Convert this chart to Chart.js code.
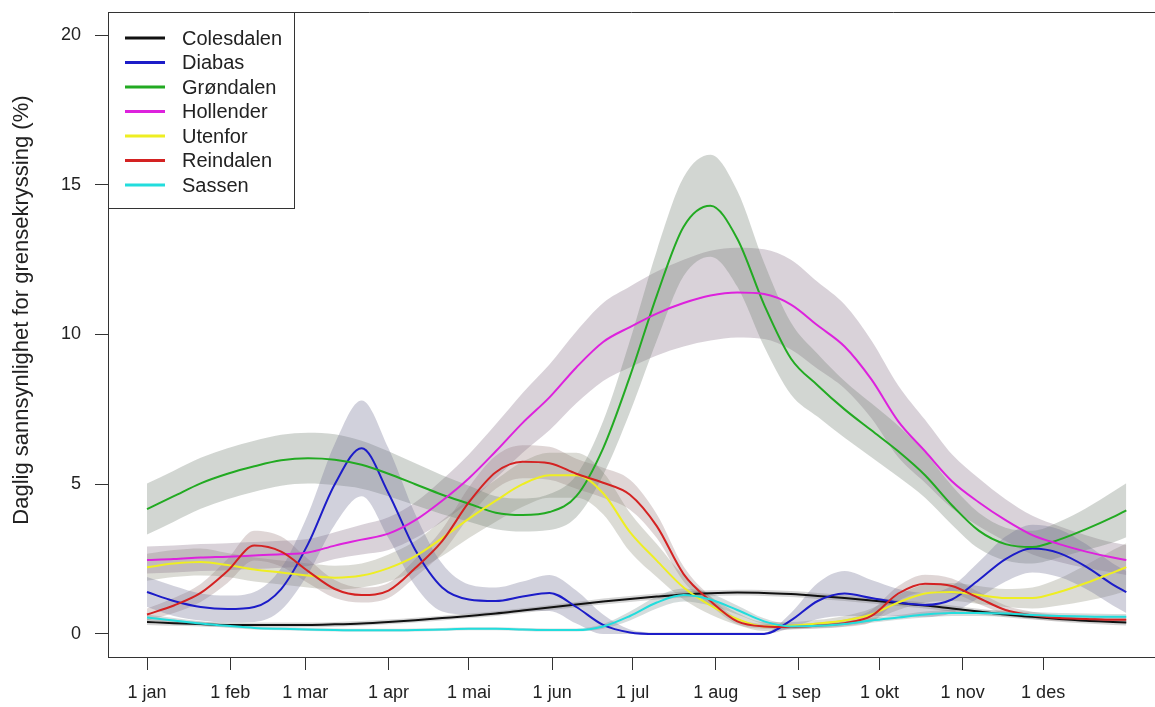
<!DOCTYPE html>
<html>
<head>
<meta charset="utf-8">
<script src="https://cdn.jsdelivr.net/npm/chart.js@4/dist/chart.umd.min.js"></script>
<style>
  body { margin: 0; background: #fff; }
</style>
</head>
<body>
<canvas id="grenseChart" width="1155" height="707"></canvas>
<script>
// dag i året (0 = 1 jan)
const days = [0, 10, 20, 30, 40, 50, 60, 70, 80, 90,
  100, 110, 120, 130, 140, 150, 160, 170, 180, 190,
  200, 210, 220, 230, 240, 250, 260, 270, 280, 290,
  300, 310, 320, 330, 340, 350, 360, 365];

const monthDays = [0, 31, 59, 90, 120, 151, 181, 212, 243, 273, 304, 334];
const monthLabels = ['1 jan', '1 feb', '1 mar', '1 apr', '1 mai', '1 jun',
  '1 jul', '1 aug', '1 sep', '1 okt', '1 nov', '1 des'];
const yTicks = [0, 5, 10, 15, 20];

const names = ['Colesdalen', 'Diabas', 'Grøndalen', 'Hollender', 'Utenfor', 'Reindalen', 'Sassen'];

const colesdalen = [0.4, 0.36, 0.33, 0.3, 0.3, 0.3, 0.3, 0.32, 0.35, 0.4,
  0.46, 0.53, 0.6, 0.68, 0.78, 0.88, 0.98, 1.08, 1.17, 1.25,
  1.32, 1.36, 1.38, 1.37, 1.33, 1.27, 1.2, 1.12, 1.03, 0.95,
  0.85, 0.75, 0.65, 0.57, 0.5, 0.44, 0.4, 0.38];
const diabas = [1.4, 1.1, 0.9, 0.83, 0.9, 1.5, 3.0, 5.0, 6.2, 4.7,
  2.8, 1.55, 1.15, 1.1, 1.25, 1.37, 0.9, 0.3, 0.05, 0,
  0, 0, 0, 0, 0.45, 1.1, 1.35, 1.2, 1.05, 0.97,
  1.15, 1.8, 2.5, 2.85, 2.7, 2.25, 1.65, 1.4];
const grondalen = [4.17, 4.6, 5.03, 5.35, 5.6, 5.8, 5.87, 5.82, 5.65, 5.35,
  5.0, 4.65, 4.35, 4.05, 3.97, 4.07, 4.6, 6.2, 8.6, 11.3,
  13.6, 14.3, 13.2, 11.0, 9.2, 8.3, 7.5, 6.8, 6.1, 5.3,
  4.3, 3.45, 3.0, 2.9, 3.15, 3.5, 3.9, 4.13];
const hollender = [2.47, 2.5, 2.55, 2.58, 2.62, 2.66, 2.72, 2.95, 3.15, 3.35,
  3.8, 4.45, 5.2, 6.1, 7.05, 7.9, 8.9, 9.75, 10.25, 10.7,
  11.05, 11.3, 11.4, 11.35, 11.0, 10.3, 9.6, 8.5, 7.1, 6.1,
  5.1, 4.4, 3.8, 3.3, 3.0, 2.75, 2.55, 2.47];
const utenfor = [2.23, 2.35, 2.4, 2.3, 2.15, 2.05, 1.95, 1.88, 1.95, 2.2,
  2.6, 3.2, 3.85, 4.45, 5.0, 5.3, 5.3, 4.7, 3.4, 2.45,
  1.55, 0.95, 0.5, 0.25, 0.28, 0.35, 0.45, 0.65, 1.05, 1.35,
  1.4, 1.3, 1.2, 1.2, 1.4, 1.7, 2.05, 2.23];
const reindalen = [0.65, 0.95, 1.37, 2.1, 2.95, 2.75, 2.1, 1.5, 1.3, 1.45,
  2.2, 3.1, 4.4, 5.4, 5.75, 5.7, 5.35, 5.05, 4.65, 3.6,
  2.0, 1.1, 0.42, 0.25, 0.23, 0.28, 0.36, 0.6, 1.35, 1.68,
  1.6, 1.2, 0.8, 0.62, 0.53, 0.5, 0.47, 0.47];
const sassen = [0.55, 0.45, 0.35, 0.27, 0.2, 0.17, 0.15, 0.13, 0.12, 0.12,
  0.13, 0.15, 0.17, 0.17, 0.15, 0.13, 0.13, 0.25, 0.6, 1.05,
  1.3, 1.15, 0.8, 0.42, 0.25, 0.27, 0.33, 0.45, 0.55, 0.65,
  0.7, 0.7, 0.68, 0.63, 0.6, 0.58, 0.57, 0.57];

// halv bredde på konfidensbåndet
const colesdalenSe = [0.1, 0.09, 0.08, 0.08, 0.08, 0.08, 0.08, 0.08, 0.08, 0.08,
  0.08, 0.08, 0.08, 0.08, 0.08, 0.09, 0.09, 0.1, 0.1, 0.1,
  0.1, 0.1, 0.1, 0.1, 0.1, 0.1, 0.1, 0.1, 0.1, 0.1,
  0.1, 0.09, 0.09, 0.09, 0.09, 0.09, 0.1, 0.1];
const diabasSe = [0.5, 0.5, 0.45, 0.45, 0.5, 0.7, 1.0, 1.35, 1.6, 1.5,
  1.2, 0.8, 0.5, 0.45, 0.5, 0.6, 0.55, 0.35, 0.1, 0.05,
  0.05, 0.05, 0.05, 0.05, 0.25, 0.6, 0.75, 0.6, 0.45, 0.4,
  0.45, 0.6, 0.75, 0.8, 0.8, 0.75, 0.7, 0.7];
const grondalenSe = [0.85, 0.85, 0.85, 0.85, 0.85, 0.85, 0.85, 0.85, 0.8, 0.75,
  0.7, 0.65, 0.6, 0.55, 0.55, 0.6, 0.7, 0.9, 1.2, 1.5,
  1.65, 1.7, 1.6, 1.4, 1.2, 1.05, 0.95, 0.9, 0.85, 0.75,
  0.65, 0.6, 0.55, 0.55, 0.6, 0.7, 0.85, 0.9];
const hollenderSe = [0.45, 0.45, 0.45, 0.45, 0.45, 0.45, 0.45, 0.45, 0.5, 0.55,
  0.6, 0.7, 0.8, 0.9, 1.0, 1.1, 1.2, 1.3, 1.35, 1.4,
  1.45, 1.5, 1.5, 1.5, 1.5, 1.45, 1.4, 1.3, 1.2, 1.05,
  0.9, 0.8, 0.7, 0.65, 0.6, 0.55, 0.5, 0.5];
const utenforSe = [0.45, 0.45, 0.45, 0.4, 0.4, 0.4, 0.4, 0.4, 0.4, 0.45,
  0.5, 0.6, 0.65, 0.7, 0.75, 0.75, 0.75, 0.7, 0.65, 0.55,
  0.4, 0.3, 0.2, 0.15, 0.12, 0.12, 0.15, 0.2, 0.25, 0.3,
  0.3, 0.3, 0.3, 0.35, 0.45, 0.6, 0.75, 0.8];
const reindalenSe = [0.2, 0.25, 0.3, 0.4, 0.5, 0.5, 0.4, 0.3, 0.25, 0.25,
  0.3, 0.4, 0.5, 0.55, 0.55, 0.55, 0.5, 0.5, 0.5, 0.4,
  0.25, 0.15, 0.1, 0.08, 0.08, 0.1, 0.12, 0.2, 0.25, 0.3,
  0.25, 0.2, 0.15, 0.12, 0.1, 0.1, 0.1, 0.1];
const sassenSe = [0.1, 0.08, 0.07, 0.06, 0.05, 0.05, 0.05, 0.05, 0.05, 0.05,
  0.05, 0.05, 0.05, 0.05, 0.05, 0.05, 0.05, 0.08, 0.15, 0.2,
  0.22, 0.2, 0.15, 0.1, 0.08, 0.08, 0.08, 0.08, 0.08, 0.1,
  0.1, 0.1, 0.1, 0.1, 0.1, 0.1, 0.1, 0.1];

const series = [colesdalen, diabas, grondalen, hollender, utenfor, reindalen, sassen];
const seriesSe = [colesdalenSe, diabasSe, grondalenSe, hollenderSe, utenforSe, reindalenSe, sassenSe];
const lineColours = ['#111111', '#1c1cc8', '#22aa22', '#dd22dd', '#eeee22', '#d42222', '#22dddd'];
const bandColours = ['rgba(120,120,120,0.3)', 'rgba(115,115,150,0.33)', 'rgba(118,132,118,0.33)',
  'rgba(140,118,140,0.33)', 'rgba(135,135,115,0.3)', 'rgba(150,118,118,0.3)', 'rgba(115,140,140,0.3)'];

const FONT = '"Liberation Sans", Arial, sans-serif';

const datasets = [];
series.forEach((vals, i) => {
  const se = seriesSe[i];
  datasets.push({
    data: days.map((d, k) => ({ x: d, y: vals[k] + se[k] })),
    fill: '+1',
    backgroundColor: bandColours[i],
    borderWidth: 0,
    pointRadius: 0,
    cubicInterpolationMode: 'monotone',
    order: 100
  });
  datasets.push({
    data: days.map((d, k) => ({ x: d, y: Math.max(0, vals[k] - se[k]) })),
    fill: false,
    borderWidth: 0,
    pointRadius: 0,
    cubicInterpolationMode: 'monotone',
    order: 100
  });
});
series.forEach((vals, i) => {
  datasets.push({
    label: names[i],
    data: days.map((d, k) => ({ x: d, y: vals[k] })),
    fill: false,
    borderColor: lineColours[i],
    borderWidth: 2,
    pointRadius: 0,
    cubicInterpolationMode: 'monotone',
    order: 10 - i
  });
});

const legendBox = {
  id: 'legendBox',
  afterDraw(chart) {
    const ctx = chart.ctx;
    const { left, top, right } = chart.chartArea;
    ctx.save();
    // øvre ramme
    ctx.strokeStyle = '#333';
    ctx.lineWidth = 1;
    ctx.beginPath();
    ctx.moveTo(left, top + 0.5);
    ctx.lineTo(right, top + 0.5);
    ctx.stroke();

    ctx.fillStyle = '#fff';
    ctx.fillRect(left, top, 187, 197);
    ctx.strokeRect(left + 0.5, top + 0.5, 186, 196);
    ctx.font = '20px ' + FONT;
    ctx.textBaseline = 'middle';
    names.forEach((name, i) => {
      const y = top + 26 + i * 24.5;
      ctx.strokeStyle = lineColours[i];
      ctx.lineWidth = 3;
      ctx.beginPath();
      ctx.moveTo(left + 17, y);
      ctx.lineTo(left + 57, y);
      ctx.stroke();
      ctx.fillStyle = '#222';
      ctx.fillText(name, left + 74, y + 1);
    });
    ctx.restore();
  }
};

const ctx = document.getElementById('grenseChart').getContext('2d');
new Chart(ctx, {
  type: 'line',
  data: { datasets: datasets },
  plugins: [legendBox],
  options: {
    responsive: false,
    animation: false,
    devicePixelRatio: 1,
    layout: { padding: { top: 12, right: 0, left: 0, bottom: 0 } },
    scales: {
      x: {
        type: 'linear',
        min: -14.54,
        max: 375.7,
        afterFit: (s) => { s.height = 50; s.paddingLeft = 0; s.paddingRight = 0; },
        afterBuildTicks: (axis) => { axis.ticks = monthDays.map(v => ({ value: v })); },
        ticks: {
          autoSkip: false,
          maxRotation: 0,
          padding: 12,
          color: '#222',
          font: { family: FONT, size: 18 },
          callback: (v) => monthLabels[monthDays.indexOf(v)]
        },
        grid: { drawOnChartArea: false, drawTicks: true, tickLength: 13, color: '#333' },
        border: { display: true, color: '#333', width: 1 }
      },
      y: {
        min: -0.77,
        max: 20.77,
        afterFit: (s) => { s.width = 108; s.paddingTop = 0; s.paddingBottom = 0; },
        afterBuildTicks: (axis) => { axis.ticks = yTicks.map(v => ({ value: v })); },
        ticks: {
          padding: 14,
          color: '#222',
          font: { family: FONT, size: 18 }
        },
        grid: { drawOnChartArea: false, drawTicks: true, tickLength: 13, color: '#333' },
        border: { display: true, color: '#333', width: 1 },
        title: {
          display: true,
          text: '\u00a0\u00a0\u00a0\u00a0\u00a0\u00a0\u00a0\u00a0Daglig sannsynlighet for grensekryssing (%)',
          color: '#222',
          font: { family: FONT, size: 22 },
          padding: { top: 9, bottom: 0 }
        }
      }
    },
    plugins: {
      legend: { display: false },
      tooltip: { enabled: false },
      filler: { drawTime: 'beforeDatasetsDraw', propagate: false }
    }
  }
});
</script>
</body>
</html>
